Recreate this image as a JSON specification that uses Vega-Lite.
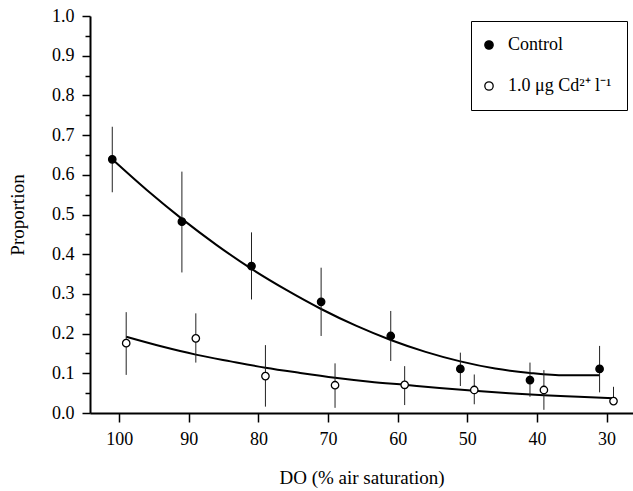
{
  "$schema": "https://vega.github.io/schema/vega-lite/v6.json",
  "width": 543,
  "height": 397,
  "autosize": {"type": "none"},
  "padding": {"left": 90, "top": 16, "right": 0, "bottom": 78},
  "background": "white",
  "config": {
    "view": {"stroke": null},
    "font": "Liberation Serif",
    "axis": {
      "grid": false,
      "domainColor": "black",
      "domainWidth": 2,
      "tickColor": "black",
      "tickWidth": 1.5,
      "labelColor": "black",
      "labelFont": "Liberation Serif",
      "labelFontSize": 18,
      "titleFont": "Liberation Serif",
      "titleFontSize": 19,
      "titleFontWeight": "normal",
      "titleColor": "black",
      "labelOverlap": false,
      "labelFlush": false
    },
    "axisY": {"labelOverlap": false},
    "axisQuantitative": {"labelOverlap": false}
  },
  "datasets": {
    "points": [
      {"series": "Control", "do": 101, "p": 0.639, "lo": 0.556, "hi": 0.721},
      {"series": "Control", "do": 91, "p": 0.482, "lo": 0.354, "hi": 0.608},
      {"series": "Control", "do": 81, "p": 0.370, "lo": 0.286, "hi": 0.455},
      {"series": "Control", "do": 71, "p": 0.280, "lo": 0.194, "hi": 0.366},
      {"series": "Control", "do": 61, "p": 0.194, "lo": 0.131, "hi": 0.257},
      {"series": "Control", "do": 51, "p": 0.111, "lo": 0.068, "hi": 0.152},
      {"series": "Control", "do": 41, "p": 0.083, "lo": 0.041, "hi": 0.127},
      {"series": "Control", "do": 31, "p": 0.111, "lo": 0.052, "hi": 0.169},
      {"series": "1.0 μg Cd²⁺ l⁻¹", "do": 99, "p": 0.176, "lo": 0.096, "hi": 0.254},
      {"series": "1.0 μg Cd²⁺ l⁻¹", "do": 89, "p": 0.188, "lo": 0.127, "hi": 0.251},
      {"series": "1.0 μg Cd²⁺ l⁻¹", "do": 79, "p": 0.093, "lo": 0.016, "hi": 0.171},
      {"series": "1.0 μg Cd²⁺ l⁻¹", "do": 69, "p": 0.070, "lo": 0.013, "hi": 0.125},
      {"series": "1.0 μg Cd²⁺ l⁻¹", "do": 59, "p": 0.071, "lo": 0.020, "hi": 0.118},
      {"series": "1.0 μg Cd²⁺ l⁻¹", "do": 49, "p": 0.058, "lo": 0.022, "hi": 0.097},
      {"series": "1.0 μg Cd²⁺ l⁻¹", "do": 39, "p": 0.058, "lo": 0.008, "hi": 0.108},
      {"series": "1.0 μg Cd²⁺ l⁻¹", "do": 29, "p": 0.030, "lo": 0.030, "hi": 0.066}
    ],
    "curves": [
      {"series": "Control", "do": 101, "p": 0.639},
      {"series": "Control", "do": 96, "p": 0.561},
      {"series": "Control", "do": 91, "p": 0.489},
      {"series": "Control", "do": 86, "p": 0.423},
      {"series": "Control", "do": 81, "p": 0.363},
      {"series": "Control", "do": 76, "p": 0.310},
      {"series": "Control", "do": 71, "p": 0.262},
      {"series": "Control", "do": 66, "p": 0.220},
      {"series": "Control", "do": 61, "p": 0.184},
      {"series": "Control", "do": 56, "p": 0.154},
      {"series": "Control", "do": 51, "p": 0.130},
      {"series": "Control", "do": 46, "p": 0.112},
      {"series": "Control", "do": 41, "p": 0.101},
      {"series": "Control", "do": 36, "p": 0.095},
      {"series": "Control", "do": 31, "p": 0.095},
      {"series": "Cd", "do": 99, "p": 0.192},
      {"series": "Cd", "do": 94, "p": 0.168},
      {"series": "Cd", "do": 89, "p": 0.147},
      {"series": "Cd", "do": 84, "p": 0.130},
      {"series": "Cd", "do": 79, "p": 0.114},
      {"series": "Cd", "do": 74, "p": 0.101},
      {"series": "Cd", "do": 69, "p": 0.089},
      {"series": "Cd", "do": 64, "p": 0.079},
      {"series": "Cd", "do": 59, "p": 0.071},
      {"series": "Cd", "do": 54, "p": 0.063},
      {"series": "Cd", "do": 49, "p": 0.056},
      {"series": "Cd", "do": 44, "p": 0.050},
      {"series": "Cd", "do": 39, "p": 0.045},
      {"series": "Cd", "do": 34, "p": 0.041},
      {"series": "Cd", "do": 29, "p": 0.037}
    ]
  },
  "encoding": {
    "x": {
      "field": "do",
      "type": "quantitative",
      "title": "DO (% air saturation)",
      "scale": {"domain": [26.2, 104.2], "reverse": true, "nice": false, "zero": false},
      "axis": {
        "values": [30, 40, 50, 60, 70, 80, 90, 100],
        "tickSize": 9,
        "labelPadding": 8,
        "titlePadding": 20,
        "labelOverlap": false
      }
    },
    "y": {
      "field": "p",
      "type": "quantitative",
      "title": "Proportion",
      "scale": {"domain": [0, 1], "nice": false},
      "axis": {
        "values": [0, 0.05, 0.1, 0.15, 0.2, 0.25, 0.3, 0.35, 0.4, 0.45, 0.5, 0.55, 0.6, 0.65, 0.7, 0.75, 0.8, 0.85, 0.9, 0.95, 1.0],
        "tickSize": {"condition": {"test": "abs(datum.value*10 - round(datum.value*10)) > 0.1", "value": 5}, "value": 8},
        "labelExpr": "abs(datum.value*10 - round(datum.value*10)) > 0.1 ? '' : format(datum.value, '.1f')",
        "labelOverlap": false,
        "labelPadding": 8,
        "titlePadding": 24
      }
    }
  },
  "layer": [
    {
      "data": {"name": "curves"},
      "mark": {"type": "line", "color": "black", "strokeWidth": 2, "interpolate": "monotone"},
      "encoding": {
        "detail": {"field": "series"}
      }
    },
    {
      "data": {"name": "points"},
      "mark": {"type": "rule", "color": "#222222", "strokeWidth": 1},
      "encoding": {
        "y": {
          "field": "lo",
          "type": "quantitative",
          "title": "Proportion",
          "axis": {
            "values": [0, 0.05, 0.1, 0.15, 0.2, 0.25, 0.3, 0.35, 0.4, 0.45, 0.5, 0.55, 0.6, 0.65, 0.7, 0.75, 0.8, 0.85, 0.9, 0.95, 1.0],
            "tickSize": {"condition": {"test": "abs(datum.value*10 - round(datum.value*10)) > 0.1", "value": 5}, "value": 8},
            "labelExpr": "abs(datum.value*10 - round(datum.value*10)) > 0.1 ? '' : format(datum.value, '.1f')",
            "labelOverlap": false,
            "labelPadding": 8,
            "titlePadding": 24
          }
        },
        "y2": {"field": "hi"}
      }
    },
    {
      "data": {"name": "points"},
      "mark": {"type": "point", "shape": "circle", "filled": true, "stroke": "black", "strokeWidth": 1.3, "size": 55, "opacity": 1},
      "encoding": {
        "fill": {
          "field": "series",
          "type": "nominal",
          "scale": {"domain": ["Control", "1.0 μg Cd²⁺ l⁻¹"], "range": ["black", "white"]},
          "legend": {
            "title": null,
            "orient": "none",
            "legendX": 381,
            "legendY": 5,
            "padding": 15,
            "rowPadding": 23,
            "strokeColor": "black",
            "fillColor": "white",
            "symbolType": "circle",
            "symbolSize": 70,
            "symbolStrokeColor": "black",
            "symbolStrokeWidth": 1.3,
            "symbolOffset": -6,
            "labelOffset": 10,
            "labelFont": "Liberation Serif",
            "labelFontSize": 18,
            "labelColor": "black",
            "labelLimit": 300
          }
        }
      }
    }
  ]
}
